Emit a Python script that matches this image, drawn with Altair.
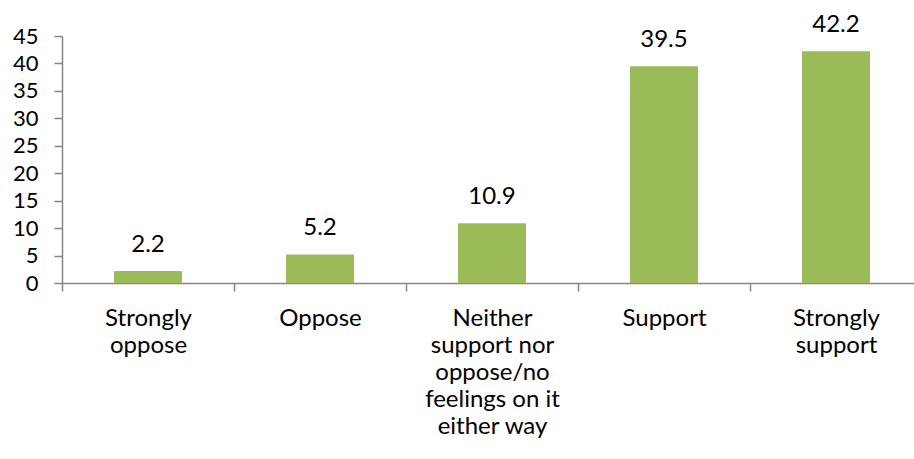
import altair as alt
import pandas as pd

# Survey responses (percent of respondents)
categories = [
    "Strongly\noppose",
    "Oppose",
    "Neither\nsupport nor\noppose/no\nfeelings on it\neither way",
    "Support",
    "Strongly\nsupport",
]
percent = [2.2, 5.2, 10.9, 39.5, 42.2]
y_ticks = [0, 5, 10, 15, 20, 25, 30, 35, 40, 45]

df = pd.DataFrame({"category": categories, "percent": percent})

FONT = "Lato"
BAR = "#9BBB59"
AXIS = "#868686"

# Bands fill the whole category slot so the axis ticks fall between categories;
# bars are drawn narrower, centred in each slot.
x = alt.X(
    "category:N",
    sort=categories,
    title=None,
    scale=alt.Scale(paddingInner=0, paddingOuter=0, range=[0, 860]),
    axis=alt.Axis(
        labelAngle=0,
        labelExpr="split(datum.label, '\\n')",
        labelFont=FONT,
        labelFontSize=24,
        labelColor="black",
        labelLineHeight=27,
        labelBaseline="top",
        labelPadding=15,
        labelLimit=300,
        tickBand="extent",
        tickSize=8,
        tickColor=AXIS,
        tickWidth=1.5,
        domainColor=AXIS,
        domainWidth=1.5,
        grid=False,
    ),
)

y = alt.Y(
    "percent:Q",
    title=None,
    scale=alt.Scale(domain=[0, 45], nice=False),
    axis=alt.Axis(
        values=y_ticks,
        labelFont=FONT,
        labelFontSize=22,
        labelColor="black",
        labelPadding=16,
        tickSize=8,
        tickColor=AXIS,
        tickWidth=1.5,
        domainColor=AXIS,
        domainWidth=1.5,
        grid=False,
    ),
)

bars = alt.Chart(df).mark_bar(color=BAR, size=68).encode(x=x, y=y)

labels = alt.Chart(df).mark_text(
    font=FONT, fontSize=24, color="black", baseline="alphabetic", dy=-19
).encode(x=x, y=y, text=alt.Text("percent:Q", format=".1f"))

chart = (
    alt.layer(bars, labels)
    .properties(
        width=852,
        height=247,
        autosize=alt.AutoSizeParams(type="none"),
        padding={"left": 62, "top": 36, "right": 0, "bottom": 176},
        background="white",
    )
    .configure_view(stroke=None)
)

chart.save("out.html", embed_options={"renderer": "svg", "actions": False})
